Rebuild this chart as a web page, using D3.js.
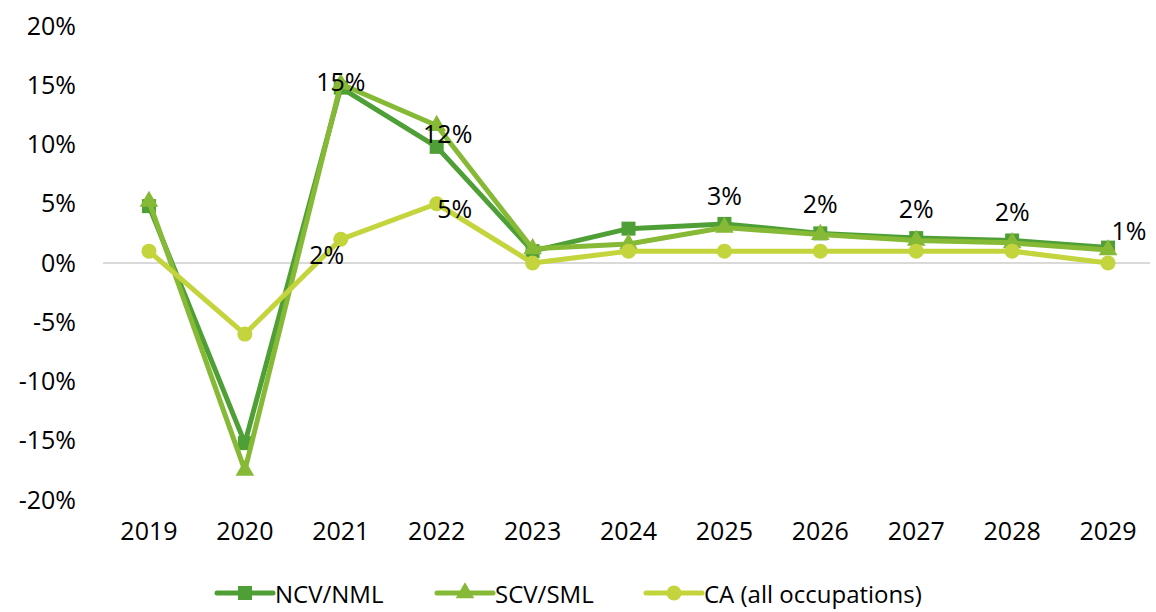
<!DOCTYPE html>
<html>
<head>
<meta charset="utf-8">
<script src="https://cdn.jsdelivr.net/npm/d3@7"></script>
<style>
  body { margin: 0; background: #fff; }
  text { font-family: "Open Sans", sans-serif; fill: #000; }
</style>
</head>
<body>
<svg id="chart"></svg>
<script>
// chart data
const years = ['2019', '2020', '2021', '2022', '2023', '2024', '2025', '2026', '2027', '2028', '2029']
const ncvNml = [0.048, -0.152, 0.148, 0.098, 0.010, 0.029, 0.033, 0.025, 0.021, 0.019, 0.013]
const scvSml = [0.052, -0.175, 0.151, 0.116, 0.012, 0.016, 0.030, 0.024, 0.019, 0.017, 0.011]
const caAll = [0.010, -0.060, 0.020, 0.050, 0.000, 0.010, 0.010, 0.010, 0.010, 0.010, 0.000]
const yTicks = [-0.20, -0.15, -0.10, -0.05, 0, 0.05, 0.10, 0.15, 0.20]

// data labels: which series and year carry a label
const labelSeries = ['SCV/SML', 'SCV/SML', 'CA (all occupations)', 'CA (all occupations)', 'SCV/SML', 'SCV/SML', 'SCV/SML', 'SCV/SML', 'SCV/SML']
const labelYears = ['2021', '2022', '2021', '2022', '2025', '2026', '2027', '2028', '2029']

const series = [
    { name: 'NCV/NML', values: ncvNml, color: '#4f9f37', marker: 'square' },
    { name: 'SCV/SML', values: scvSml, color: '#86b935', marker: 'triangle' },
    { name: 'CA (all occupations)', values: caAll, color: '#c3d43c', marker: 'circle' }
]

let width = 1156
let height = 612
let margin = { top: 26, right: 0, bottom: 112, left: 101 }
let fontSize = 25

let svg = d3.select('#chart')
    .attr('width', width)
    .attr('height', height)
    .attr('viewBox', [0, 0, width, height])

let x = d3.scaleBand()
    .domain(years)
    .range([margin.left, width - margin.right])

let y = d3.scaleLinear()
    .domain([-0.2, 0.2])
    .range([height - margin.bottom, margin.top])

let cx = d => x(d) + x.bandwidth() / 2
// plain hyphen for negatives, like the original
let pct = d3.formatLocale({ decimal: '.', thousands: ',', grouping: [3], currency: ['$', ''], minus: '-' }).format('.0%')

// y axis labels (no axis line)
let yAxis = g => g
    .attr('transform', `translate(${margin.left - 25},0)`)
    .call(d3.axisLeft(y).tickValues(yTicks).tickFormat(pct).tickSize(0).tickPadding(0))
    .call(g => g.select('.domain').remove())
    .call(g => g.selectAll('text').attr('font-size', fontSize).attr('font-family', '"Open Sans", sans-serif').attr('fill', '#000'))

svg.append('g').call(yAxis)

// zero line
svg.append('line')
    .attr('x1', margin.left + 2)
    .attr('x2', width - 6)
    .attr('y1', y(0))
    .attr('y2', y(0))
    .attr('stroke', '#d9d9d9')
    .attr('stroke-width', 2)

// category labels along the bottom
let xAxis = g => g
    .attr('transform', `translate(0,${height - margin.bottom + 32})`)
    .call(d3.axisBottom(x).tickSize(0).tickPadding(0))
    .call(g => g.select('.domain').remove())
    .call(g => g.selectAll('text').attr('font-size', fontSize).attr('dy', '0.32em').attr('font-family', '"Open Sans", sans-serif').attr('fill', '#000'))

svg.append('g').call(xAxis)

let line = d3.line()
    .x((d, i) => cx(years[i]))
    .y(d => y(d))

function drawMarker(g, type, color, px, py, scale) {
    let s = scale || 1
    if (type === 'square') {
        g.append('rect')
            .attr('x', px - 7 * s).attr('y', py - 7 * s)
            .attr('width', 14 * s).attr('height', 14 * s)
            .attr('fill', color)
    } else if (type === 'triangle') {
        g.append('path')
            .attr('d', d3.symbol(d3.symbolTriangle, 150 * s * s)())
            .attr('transform', `translate(${px},${py})`)
            .attr('fill', color)
    } else {
        g.append('circle')
            .attr('cx', px).attr('cy', py).attr('r', 7.5 * s)
            .attr('fill', color)
    }
}

series.forEach(s => {
    let g = svg.append('g')
    g.append('path')
        .datum(s.values)
        .attr('fill', 'none')
        .attr('stroke', s.color)
        .attr('stroke-width', 5)
        .attr('stroke-linejoin', 'round')
        .attr('d', line)
    s.values.forEach((v, i) => drawMarker(g, s.marker, s.color, cx(years[i]), y(v)))
})

// data labels, offsets follow the original placement
const labelOffsets = [[0, -3], [11, 7], [-14, 15], [18, 4], [0, -32], [0, -32], [0, -32], [0, -32], [21, -20]]
labelSeries.forEach((name, k) => {
    let s = series.find(d => d.name === name)
    let i = years.indexOf(labelYears[k])
    let v = s.values[i]
    svg.append('text')
        .attr('x', cx(years[i]) + labelOffsets[k][0])
        .attr('y', y(v) + labelOffsets[k][1])
        .attr('text-anchor', 'middle')
        .attr('dominant-baseline', 'central')
        .attr('font-size', fontSize)
        .text(pct(Math.round(v * 100) / 100))
})

// legend
let legendX = [217, 437, 646]
let legend = svg.append('g')
series.forEach((s, i) => {
    let lx = legendX[i]
    let ly = 593
    legend.append('line')
        .attr('x1', lx).attr('x2', lx + 56)
        .attr('y1', ly).attr('y2', ly)
        .attr('stroke', s.color)
        .attr('stroke-width', 5)
        .attr('stroke-linecap', 'round')
    drawMarker(legend, s.marker, s.color, lx + 28, ly, 1)
    legend.append('text')
        .attr('x', lx + 58)
        .attr('y', ly)
        .attr('dominant-baseline', 'central')
        .attr('font-size', 24)
        .text(s.name)
})
</script>
</body>
</html>
